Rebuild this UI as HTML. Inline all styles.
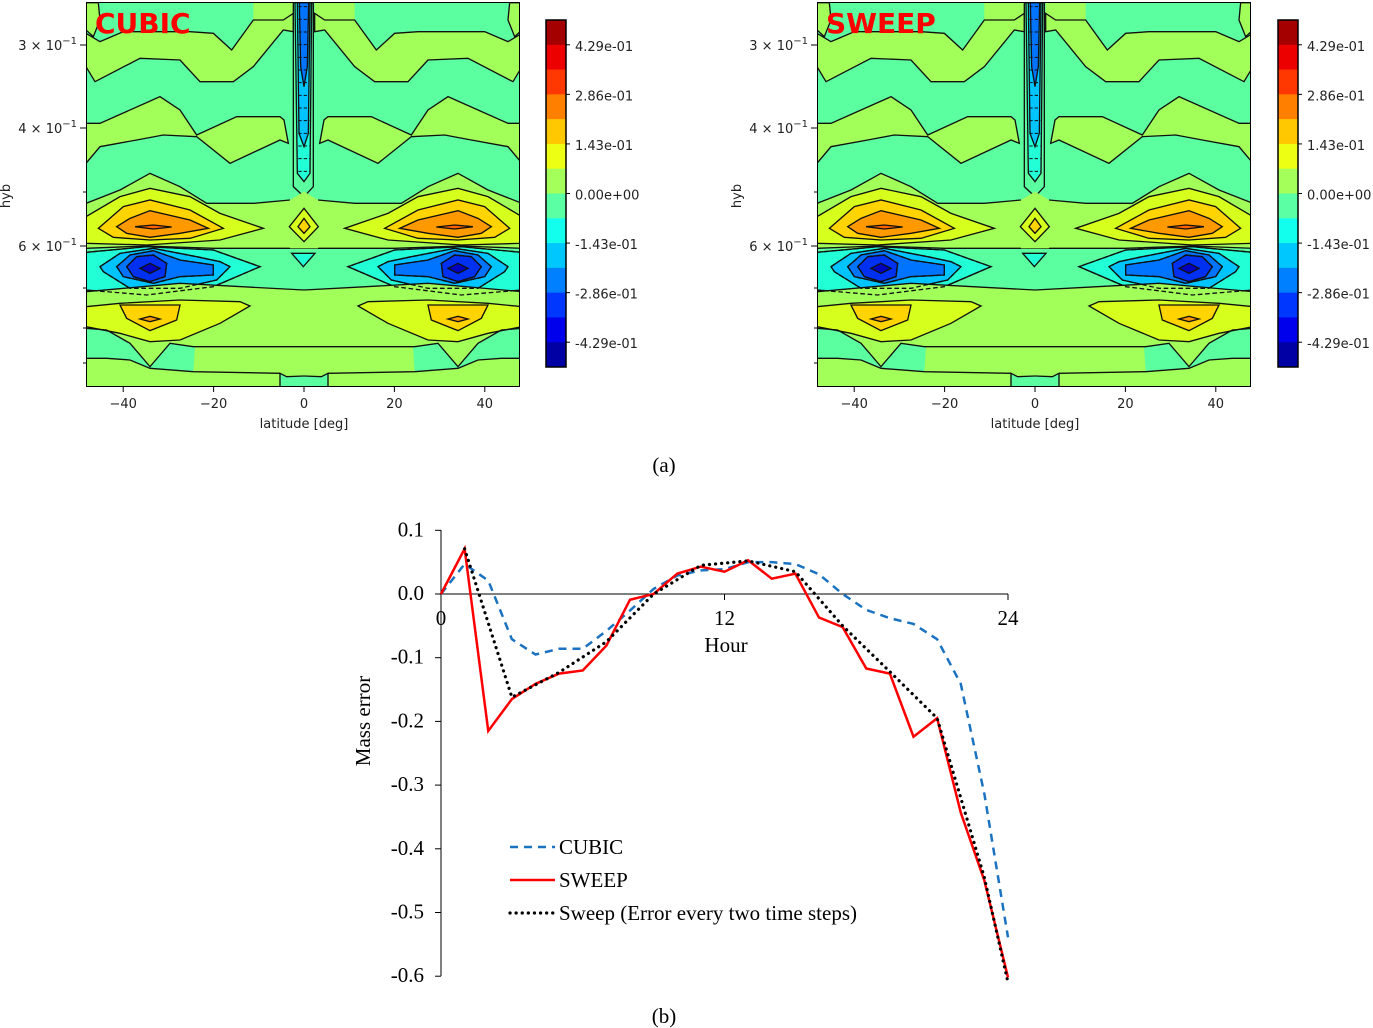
<!DOCTYPE html>
<html><head><meta charset="utf-8"><style>
body{margin:0;background:#fff;width:1373px;height:1028px;overflow:hidden}
svg{position:absolute;left:0;top:0}
.t{font-family:"DejaVu Sans","Liberation Sans",sans-serif;font-size:13px;fill:#222}
.tm{font-family:"Liberation Serif",serif;font-size:21px;fill:#000}
</style></head><body>
<svg id="s" width="1373" height="1028">
<defs>
<clipPath id="cp"><rect x="0" y="0" width="434" height="385"/></clipPath>
</defs>
</svg>
<script>
// ---------- line chart data ----------
const hours=[0,1,2,3,4,5,6,7,8,9,10,11,12,13,14,15,16,17,18,19,20,21,22,23,24];
const cubicVals=[0,0.047,0.021,-0.071,-0.095,-0.086,-0.086,-0.058,-0.026,0.008,0.029,0.037,0.039,0.050,0.050,0.047,0.031,0,-0.025,-0.038,-0.047,-0.071,-0.141,-0.314,-0.539];
const sweepVals=[0,0.071,-0.215,-0.165,-0.141,-0.125,-0.120,-0.081,-0.009,0,0.032,0.043,0.035,0.053,0.024,0.032,-0.037,-0.052,-0.117,-0.125,-0.224,-0.195,-0.343,-0.450,-0.602];
const sweep2Hours=[1,3,5,7,9,11,13,15,17,19,21,23,24];
const sweep2Vals=[0.071,-0.162,-0.123,-0.075,0,0.045,0.052,0.035,-0.050,-0.122,-0.195,-0.445,-0.61];
const yTicks=[0.1,0,-0.1,-0.2,-0.3,-0.4,-0.5,-0.6];
const yTickLabels=["0.1","0.0","-0.1","-0.2","-0.3","-0.4","-0.5","-0.6"];
const xTicks=[0,12,24];
// colorbar
const cbLabels=["4.29e-01","2.86e-01","1.43e-01","0.00e+00","-1.43e-01","-2.86e-01","-4.29e-01"];
const cbValues=[0.4286,0.2857,0.1429,0,-0.1429,-0.2857,-0.4286];

const NS="http://www.w3.org/2000/svg";
const S=document.getElementById('s');
function el(tag,attrs,parent){const e=document.createElementNS(NS,tag);for(const k in attrs)e.setAttribute(k,attrs[k]);(parent||S).appendChild(e);return e;}
function txt(x,y,s,cls,extra,parent){const e=el('text',Object.assign({x:x,y:y,class:cls},extra||{}),parent);e.textContent=s;return e;}

// ---------- contour panels ----------
const C={mint:'#5cffa0',lg:'#a2ff5a',yg:'#d6ff1e',gold:'#ffd400',or:'#ff9900',dor:'#ff6000',cy:'#22ffd6',lb:'#00c4ff',bl:'#0074ff',db:'#0030f0',nv:'#0000c0'};
// shapes in zoom coords; left half, mirrored about x=672. third element: false = no outline
const halfShapes=[
 ['lg',[[18,8],[18,90],[40,110],[60,60],[55,8]]],
 ['lg',[[520,8],[640,8],[640,40],[610,60],[520,60]],false],
 ['lg',[[18,100],[60,125],[130,95],[330,95],[400,100],[455,150],[520,60],[610,60],[640,40],[640,95],[610,90],[520,200],[460,245],[360,245],[300,180],[180,175],[45,245],[18,200]]],
 ['lg',[[18,370],[60,370],[240,290],[300,330],[350,405],[470,350],[600,350],[612,360],[625,430],[600,420],[450,490],[350,410],[250,405],[170,420],[60,440],[18,490]]],
 ['lg',[[18,610],[120,570],[210,520],[300,560],[380,610],[520,610],[630,600],[672,580],[672,745],[18,745]],false],
 ['yg',[[18,650],[120,590],[210,565],[330,590],[420,640],[550,685],[420,720],[200,735],[18,730]]],
 ['gold',[[55,685],[130,620],[210,600],[330,630],[430,685],[330,715],[210,720],[100,712]]],
 ['or',[[110,680],[150,655],[210,632],[330,660],[385,685],[300,700],[210,712],[140,700]]],
 ['dor',[[165,680],[220,675],[275,681],[220,687]]],
 ['cy',[[18,757],[200,740],[400,750],[540,800],[400,860],[200,885],[18,870]]],
 ['lb',[[60,800],[120,760],[220,745],[350,770],[420,785],[450,800],[410,840],[300,865],[150,865],[70,815]]],
 ['bl',[[110,800],[150,765],[220,752],[300,780],[400,795],[400,825],[300,830],[220,850],[130,830]]],
 ['db',[[140,800],[170,770],[220,765],[260,790],[255,830],[210,845],[160,830]]],
 ['nv',[[180,805],[210,790],[240,805],[210,820]]],
 ['lg',[[18,875],[300,850],[520,862],[672,870],[672,1040],[500,1040],[340,1040],[270,1030],[210,1100],[150,1030],[80,990],[18,985]],false],
 ['yg',[[18,920],[120,910],[300,900],[480,905],[510,918],[420,970],[300,1020],[210,1025],[120,1000],[18,980]]],
 ['gold',[[120,915],[300,915],[290,960],[210,992],[140,955]]],
 ['or',[[180,957],[210,949],[240,957],[210,965]]],
 ['lg',[[18,1075],[80,1075],[150,1080],[210,1105],[340,1115],[600,1120],[672,1125],[672,1160],[18,1160]],false],
 ['lg',[[340,1115],[345,1040],[600,1040],[672,1040],[672,1125],[600,1120]],false],
 ['mint',[[600,1120],[620,1130],[672,1128],[672,1160],[600,1160]],false]
];
const halfLines=[
 [[18,875],[300,850],[520,862],[672,870]],
 [[18,985],[80,990],[150,1030],[210,1100],[270,1030],[340,1040],[500,1040],[672,1040]],
 [[18,1075],[80,1075],[150,1080],[210,1105],[340,1115],[600,1120]],
 [[600,1160],[600,1120],[620,1130],[672,1128]],
 [[18,610],[120,570],[210,520],[300,560],[380,610],[520,610],[630,600]],
 [[18,745],[200,738],[400,745],[560,745],[672,745]]
];
const centerShapes=[
 ['mint',[[640,8],[700,8],[700,560],[672,590],[640,560]]],
 ['cy',[[645,8],[695,8],[690,520],[672,545],[652,520]]],
 ['lb',[[652,8],[690,8],[685,400],[672,440],[657,400]]],
 ['bl',[[658,8],[686,8],[682,200],[672,260],[662,200]]],
 ['lg',[[630,600],[672,575],[714,600],[730,680],[714,745],[630,745],[612,680]],false],
 ['yg',[[672,625],[715,680],[672,725],[628,680]]],
 ['gold',[[672,655],[690,680],[672,700],[654,680]]],
 ['cy',[[635,760],[705,760],[670,800]]]
];
const dashedLines=[
 [[18,757],[200,740],[400,750],[540,800],[400,860],[200,885],[18,870]],
 [[60,800],[120,760],[220,745],[350,770],[420,785],[450,800],[410,840],[300,865],[150,865],[70,815],[60,800]],
 [[110,800],[150,765],[220,752],[300,780],[400,795],[400,825],[300,830],[220,850],[130,830],[110,800]],
 [[140,800],[170,770],[220,765],[260,790],[255,830],[210,845],[160,830],[140,800]]
];
function pts(a){return a.map(p=>p[0]+','+p[1]).join(' ');}
function drawPanel(ox,title,cbx){
 const g=el('g',{transform:`translate(${ox},2)`,'clip-path':'url(#cp)'});
 
 
 el('rect',{x:0,y:0,width:434,height:385,fill:C.mint},g);
 const z=el('g',{transform:'translate(-6,-2) scale(0.33333)'},g);
 for(const side of [0,1]){
  const sg=el('g',side?{transform:'translate(1344,0) scale(-1,1)'}:{},z);
  for(const [c,p,o] of halfShapes){el('polygon',{points:pts(p),fill:C[c],stroke:o===false?'none':'#111','stroke-width':4},sg);}
  for(const p of halfLines){el('polyline',{points:pts(p),fill:'none',stroke:'#111','stroke-width':4},sg);}
  for(const p of dashedLines){el('polyline',{points:pts(p),fill:'none',stroke:'#111','stroke-width':4,'stroke-dasharray':'14,8'},sg);}
 }
 for(const [c,p,o] of centerShapes){el('polygon',{points:pts(p),fill:C[c],stroke:o===false?'none':'#111','stroke-width':4},z);}
 for(let i=0;i<14;i++){el('line',{x1:655,x2:688,y1:20+i*38,y2:20+i*38,stroke:'#111','stroke-width':3,'stroke-dasharray':'10,6'},z);}
 el('rect',{x:0,y:0,width:434,height:385,fill:'none',stroke:'#000','stroke-width':2},g);
 const tt=txt(ox+9,33,title,'',{fill:'#ff0000','font-family':'"DejaVu Sans",sans-serif','font-weight':'bold','font-size':'28px'});
 
 
 const latTicks=[-40,-20,0,20,40];
 for(const v of latTicks){const x=ox+218+v*4.52;
  el('line',{x1:x,x2:x,y1:387,y2:392,stroke:'#000'});
  const t=txt(x,408,v<0?'\u2212'+(-v):String(v),'t',{'text-anchor':'middle'});
  
  
 }
 const xl=txt(ox+218,428,'latitude [deg]','t',{'text-anchor':'middle'});
 
 
 const yl=txt(0,0,'hyb','t',{'text-anchor':'middle',transform:`translate(${ox-76},196) rotate(-90)`});
 
 
 const maj=[[45,'3'],[128,'4'],[246,'6']];
 for(const [y,m] of maj){el('line',{x1:ox-6,x2:ox,y1:y,y2:y,stroke:'#000'});
  const t=txt(ox-9,y+5,'','t',{'text-anchor':'end'});
  
  
  t.textContent=m+' \u00d7 10';const sp=document.createElementNS(NS,'tspan');sp.setAttribute('dy','-6');sp.setAttribute('font-size','10');sp.textContent='\u22121';t.appendChild(sp);}
 for(const y of [192,288,328,363]){el('line',{x1:ox-3,x2:ox,y1:y,y2:y,stroke:'#000'});}
 const cb=el('g',{});
 
 
 const top=20,h=347,n=14;
 for(let i=0;i<n;i++){const t=(n-1-i+0.5)/n;
  const f=v=>Math.round(255*Math.max(0,Math.min(1,v)));
  const col=`rgb(${f(1.5-Math.abs(4*t-3))},${f(1.5-Math.abs(4*t-2))},${f(1.5-Math.abs(4*t-1))})`;
  el('rect',{x:cbx,y:top+i*h/n,width:20,height:h/n+0.5,fill:col},cb);}
 el('rect',{x:cbx,y:top,width:20,height:h,fill:'none',stroke:'#000','stroke-width':1.5},cb);
 cbValues.forEach((v,i)=>{const y=top+(0.5-v)*h;
  el('line',{x1:cbx+20,x2:cbx+24,y1:y,y2:y,stroke:'#000'},cb);
  const t=txt(cbx+29,y+6,cbLabels[i],'t',{},cb);
  
  
 });
}
drawPanel(86,'CUBIC',546);
drawPanel(817,'SWEEP',1278);

// ---------- line chart ----------
const X=h=>441+h*(1008-441)/24;
const Y=v=>594-v*637;
const lc=el('g',{});


el('line',{x1:441,x2:441,y1:530,y2:976,stroke:'#000'},lc);
el('line',{x1:441,x2:1008,y1:594,y2:594,stroke:'#000'},lc);
yTicks.forEach((v,i)=>{el('line',{x1:435,x2:441,y1:Y(v),y2:Y(v),stroke:'#000'},lc);
 const t=txt(424,Y(v)+6,yTickLabels[i],'tm',{'text-anchor':'end'},lc);
 
 });
xTicks.forEach(v=>{el('line',{x1:X(v),x2:X(v),y1:594,y2:600,stroke:'#000'},lc);
 const t=txt(X(v),625,String(v),'tm',{'text-anchor':'middle'},lc);
 
 });
const hx=txt(726,652,'Hour','tm',{'text-anchor':'middle'},lc);


const my=txt(0,0,'Mass error','tm',{'text-anchor':'middle',transform:'translate(370,721) rotate(-90)'},lc);


function series(hs,vs,attrs,name){const p=el('polyline',Object.assign({points:hs.map((h,i)=>X(h)+','+Y(vs[i])).join(' '),fill:'none'},attrs),lc);
 
 }
series(hours,cubicVals,{stroke:'#1a72c0','stroke-width':2.5,'stroke-dasharray':'8,6'},'cubic-line');
series(hours,sweepVals,{stroke:'#ff0000','stroke-width':2.5},'sweep-line');
series(sweep2Hours,sweep2Vals,{stroke:'#000','stroke-width':3.2,'stroke-dasharray':'0.1,6','stroke-linecap':'round'},'sweep-two-step-line');
const leg=[['CUBIC',{stroke:'#1a72c0','stroke-width':2.5,'stroke-dasharray':'8,6'}],['SWEEP',{stroke:'#ff0000','stroke-width':2.5}],['Sweep (Error every two time steps)',{stroke:'#000','stroke-width':3.2,'stroke-dasharray':'0.1,6','stroke-linecap':'round'}]];
leg.forEach(([s,a],i)=>{const y=847+i*33;const g=el('g',{},lc);
 
 
 el('line',Object.assign({x1:510,x2:555,y1:y,y2:y},a),g);
 txt(559,y+7,s,'tm',{},g);});
const a=txt(664,472,'(a)','tm',{'text-anchor':'middle'});


const b=txt(664,1023,'(b)','tm',{'text-anchor':'middle'});


</script>
</body></html>
